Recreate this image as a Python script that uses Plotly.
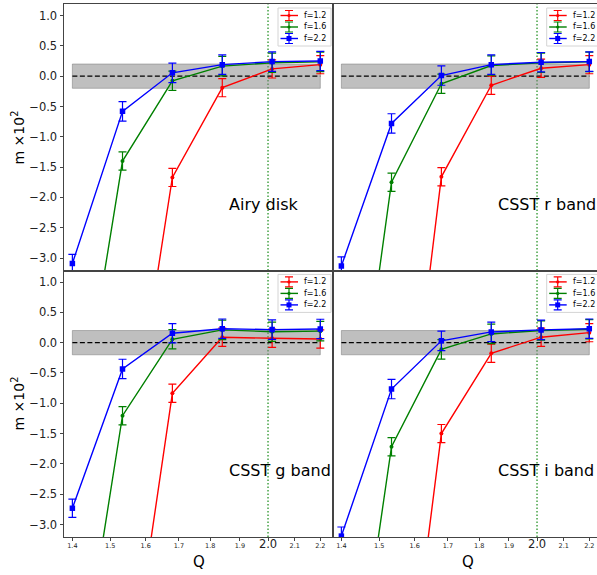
import numpy as np
import plotly.graph_objects as go
from plotly.subplots import make_subplots

# ---------------- data ----------------
Q = [1.40, 1.534, 1.68, 1.84, 2.015, 2.20]
f_labels = ["f=1.2", "f=1.6", "f=2.2"]
colors = ["red", "green", "blue"]
panel_names = ["Airy disk", "CSST r band", "CSST g band", "CSST i band"]

airy_f12 = [-14.0, -6.97, -1.67, -0.19, 0.12, 0.19]
airy_f16 = [-6.5, -1.40, -0.076, 0.165, 0.22, 0.235]
airy_f22 = [-3.09, -0.58, 0.055, 0.19, 0.24, 0.25]

r_f12 = [-15.0, -8.4, -1.66, -0.15, 0.13, 0.19]
r_f16 = [-7.75, -1.75, -0.125, 0.175, 0.22, 0.235]
r_f22 = [-3.13, -0.78, 0.01, 0.19, 0.23, 0.24]

g_f12 = [-14.0, -6.44, -0.835, 0.089, 0.072, 0.061]
g_f16 = [-6.44, -1.205, 0.056, 0.21, 0.18, 0.19]
g_f22 = [-2.73, -0.434, 0.155, 0.23, 0.215, 0.226]

i_f12 = [-15.0, -8.0, -1.5, -0.175, 0.09, 0.165]
i_f16 = [-7.4, -1.716, -0.11, 0.144, 0.20, 0.22]
i_f22 = [-3.19, -0.765, 0.03, 0.177, 0.21, 0.23]

err_f12 = [0.15, 0.15, 0.15, 0.15, 0.15, 0.15]
err_f16 = [0.15, 0.15, 0.16, 0.16, 0.16, 0.16]
err_f22 = [0.15, 0.16, 0.16, 0.16, 0.16, 0.16]

xtick_vals = [1.4, 1.5, 1.6, 1.7, 1.8, 1.9, 2.0, 2.1, 2.2]
ytick_vals = [-3.0, -2.5, -2.0, -1.5, -1.0, -0.5, 0.0, 0.5, 1.0]

band_lo, band_hi = -0.2, 0.2
band_x = [1.4, 2.2]
q_mark = 2.0

panels = [
    (1, 1, [airy_f12, airy_f16, airy_f22]),
    (1, 2, [r_f12, r_f16, r_f22]),
    (2, 1, [g_f12, g_f16, g_f22]),
    (2, 2, [i_f12, i_f16, i_f22]),
]
errs = [err_f12, err_f16, err_f22]

# ---------------- layout geometry ----------------
W, H = 597, 575
L, R, T, B = 64, 0, 4, 38
FONT = "DejaVu Sans"


def px(x):
    return (x - L) / (W - L - R)


def py(y):
    return 1 - (y - T) / (H - T - B)


fig = make_subplots(rows=2, cols=2, horizontal_spacing=0, vertical_spacing=0,
                    column_widths=[269, 264])

for (r, c, series) in panels:
    for k in range(3):
        fig.add_trace(go.Scatter(
            x=Q, y=series[k], mode="lines+markers",
            line=dict(color=colors[k], width=1.4),
            marker=dict(color=colors[k], size=5.5 if k == 2 else 4,
                        symbol="square" if k == 2 else "circle"),
            error_y=dict(type="data", array=errs[k], color=colors[k],
                         thickness=1.2, width=4),
            showlegend=False, cliponaxis=True,
        ), row=r, col=c)

shapes = []
annotations = []
axis_ids = [("x", "y"), ("x2", "y2"), ("x3", "y3"), ("x4", "y4")]
for idx, (xa, ya) in enumerate(axis_ids):
    shapes.append(dict(type="rect", xref=xa, yref=ya, x0=band_x[0], x1=band_x[1],
                       y0=band_lo, y1=band_hi, fillcolor="rgba(128,128,128,0.5)",
                       line=dict(color="rgba(120,120,120,0.5)", width=1), layer="below"))
    shapes.append(dict(type="line", xref=xa, yref=ya, x0=band_x[0], x1=band_x[1],
                       y0=0, y1=0, line=dict(color="black", width=1.4, dash="5px,2.5px"),
                       layer="below"))
    shapes.append(dict(type="line", xref=xa, yref=ya + " domain", x0=q_mark, x1=q_mark,
                       y0=0, y1=1, line=dict(color="green", width=1.1, dash="1.5px,2px"),
                       layer="below"))
    annotations.append(dict(xref=xa, yref=ya, x=np.log10(1.857), y=-2.11,
                            text=panel_names[idx], showarrow=False, xanchor="left",
                            yanchor="middle", font=dict(size=16, color="black", family=FONT)))

# custom legends (one per panel)
offsets = [(0, 0), (268.7, 0), (0, 266.4), (268.7, 266.4)]
for dx, dy in offsets:
    shapes.append(dict(type="rect", xref="paper", yref="paper",
                       x0=px(278 + dx), x1=px(331 + dx), y0=py(8 + dy), y1=py(46 + dy),
                       fillcolor="rgba(255,255,255,0.85)",
                       line=dict(color="#d4d4d4", width=1)))
    for k, yy in enumerate([15.5, 27.0, 38.5]):
        y = yy + dy
        cx = 289 + dx
        shapes.append(dict(type="line", xref="paper", yref="paper",
                           x0=px(280.5 + dx), x1=px(298 + dx), y0=py(y), y1=py(y),
                           line=dict(color=colors[k], width=1.4)))
        path = (f"M {px(cx-4)},{py(y-5)} L {px(cx+4)},{py(y-5)} "
                f"M {px(cx)},{py(y-5)} L {px(cx)},{py(y+5)} "
                f"M {px(cx-4)},{py(y+5)} L {px(cx+4)},{py(y+5)}")
        shapes.append(dict(type="path", xref="paper", yref="paper", path=path,
                           line=dict(color=colors[k], width=1.2)))
        s = 2.5 if k == 2 else 1.6
        shapes.append(dict(type="rect" if k == 2 else "circle", xref="paper", yref="paper",
                           x0=px(cx - s), x1=px(cx + s), y0=py(y - s), y1=py(y + s),
                           fillcolor=colors[k], line=dict(color=colors[k], width=0)))
        annotations.append(dict(xref="paper", yref="paper", x=px(302 + dx), y=py(y),
                                text=f_labels[k], showarrow=False, xanchor="left",
                                yanchor="middle", font=dict(size=8, color="black", family=FONT)))

# axis titles as annotations
for yc in [137.5, 403.5]:
    annotations.append(dict(xref="paper", yref="paper", x=px(18), y=py(yc),
                            text="m \u00d710<sup>2</sup>", showarrow=False, textangle=-90,
                            xanchor="center", yanchor="middle",
                            font=dict(size=14, color="black", family=FONT)))
for xc in [198.5, 467.5]:
    annotations.append(dict(xref="paper", yref="paper", x=px(xc), y=py(562),
                            text="Q", showarrow=False, xanchor="center", yanchor="middle",
                            font=dict(size=15, color="black", family=FONT)))

xticktext = [("<span style='font-size:11.5px'>2.0</span>" if v == 2.0 else f"{v:.1f}")
             for v in xtick_vals]

axis_common = dict(showline=True, linecolor="#444", linewidth=1, mirror=True,
                   showgrid=False, zeroline=False)

for c, rng in [(1, [0.13950, 0.35248]), (2, [0.13950, 0.34852])]:
    for r in [1, 2]:
        fig.update_xaxes(type="log", range=rng, row=r, col=c, **axis_common,
                         tickvals=xtick_vals, ticktext=xticktext,
                         showticklabels=(r == 2), ticks="outside" if r == 2 else "",
                         ticklen=2.5, tickcolor="#444",
                         tickfont=dict(size=6.5, color="#222", family=FONT))
for r in [1, 2]:
    for c in [1, 2]:
        fig.update_yaxes(range=[-3.205, 1.19], row=r, col=c, **axis_common,
                         tickvals=ytick_vals, tickformat=".1f",
                         showticklabels=(c == 1), ticks="outside" if c == 1 else "",
                         ticklen=3.5, tickcolor="#444",
                         tickfont=dict(size=11.5, color="#222", family=FONT))

fig.update_layout(width=W, height=H, margin=dict(l=L, r=R, t=T, b=B),
                  plot_bgcolor="white", paper_bgcolor="white",
                  font=dict(family=FONT), showlegend=False,
                  shapes=shapes, annotations=annotations)

fig.write_html("out.html")
